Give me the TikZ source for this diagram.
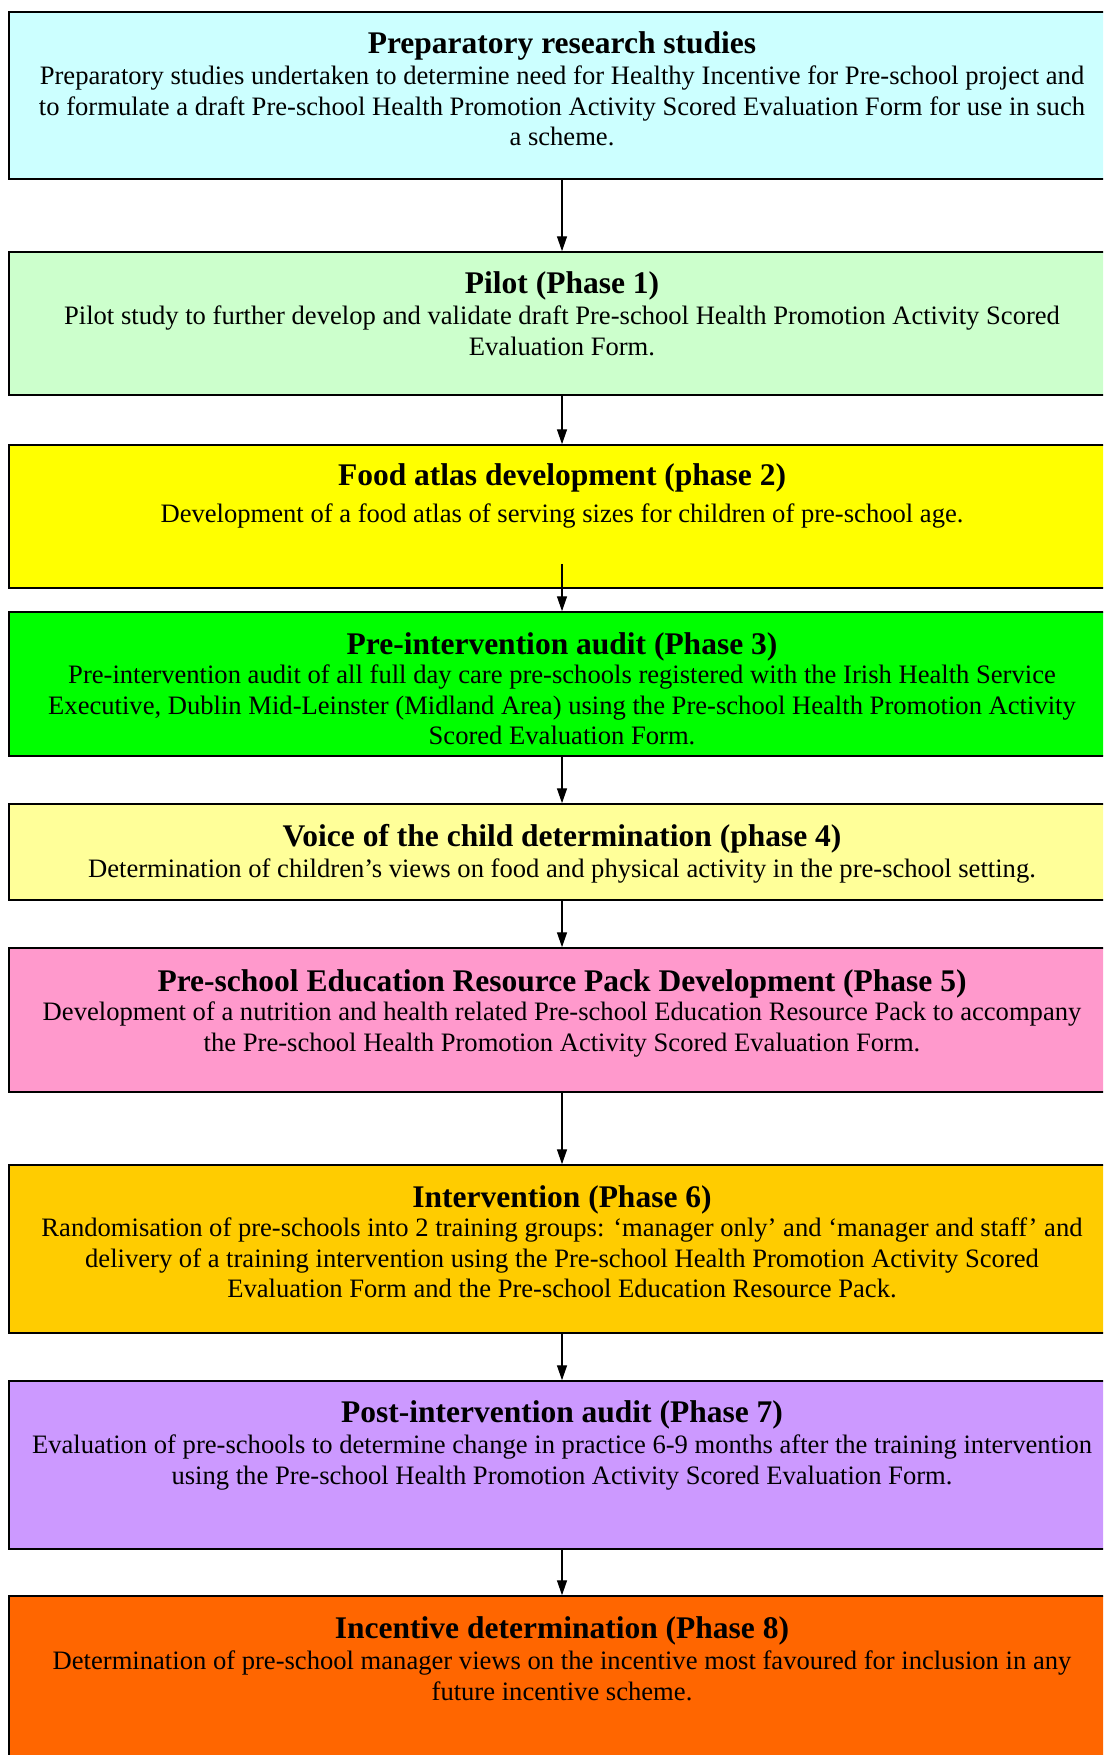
\documentclass[tikz,border=0pt]{standalone}
\usepackage{fontspec}
\setmainfont{Liberation Serif}
\usetikzlibrary{arrows.meta}
\definecolor{c1}{HTML}{CCFFFF}
\definecolor{c2}{HTML}{CCFFCC}
\definecolor{c3}{HTML}{FFFF00}
\definecolor{c4}{HTML}{00FF00}
\definecolor{c5}{HTML}{FFFF99}
\definecolor{c6}{HTML}{FF99CC}
\definecolor{c7}{HTML}{FFCC00}
\definecolor{c8}{HTML}{CC99FF}
\definecolor{c9}{HTML}{FF6600}
\tikzset{
  phasebox/.style={draw=black, line width=1.5pt, rectangle, inner sep=0pt, minimum width=1106pt},
  titletext/.style={anchor=base, inner sep=0pt, font=\fontsize{31.5}{36}\selectfont\bfseries},
  bodytext/.style={anchor=base, inner sep=0pt, align=center, font=\fontsize{26.6}{30.3}\selectfont},
  flow/.style={draw=black, line width=1.4pt, -{Triangle[length=15pt,width=10pt]}}
}
\begin{document}
\begin{tikzpicture}[x=1pt,y=-1pt]
\useasboundingbox (0,0) rectangle (1103,1755);
\clip (0,0) rectangle (1103,1755);
% boxes
\node[phasebox, fill=c1, minimum height=167pt] (b1) at (562,95.5) {};
\node[phasebox, fill=c2, minimum height=143pt] (b2) at (562,323.5) {};
\node[phasebox, fill=c3, minimum height=143pt] (b3) at (562,516.5) {};
\node[phasebox, fill=c4, minimum height=144pt] (b4) at (562,684) {};
\node[phasebox, fill=c5, minimum height=96pt] (b5) at (562,852) {};
\node[phasebox, fill=c6, minimum height=144pt] (b6) at (562,1020) {};
\node[phasebox, fill=c7, minimum height=168pt] (b7) at (562,1249) {};
\node[phasebox, fill=c8, minimum height=168pt] (b8) at (562,1465) {};
\node[phasebox, fill=c9, minimum height=200pt] (b9) at (562,1696) {};
% titles
\node[titletext] (t1) at (562,53.8) {Preparatory research studies};
\node[titletext] (t2) at (562,293.3) {Pilot (Phase 1)};
\node[titletext] (t3) at (562,485.3) {Food atlas development (phase 2)};
\node[titletext] (t4) at (562,654.3) {Pre-intervention audit (Phase 3)};
\node[titletext] (t5) at (562,846.3) {Voice of the child determination (phase 4)};
\node[titletext] (t6) at (562,991.3) {Pre-school Education Resource Pack Development (Phase 5)};
\node[titletext] (t7) at (562,1207.3) {Intervention (Phase 6)};
\node[titletext] (t8) at (562,1422.3) {Post-intervention audit (Phase 7)};
\node[titletext] (t9) at (562,1638.3) {Incentive determination (Phase 8)};
% bodies (anchor base = baseline of last line)
\node[bodytext] (d1) at (562,145.5) {Preparatory studies undertaken to determine need for Healthy Incentive for Pre-school project and\\to formulate a draft Pre-school Health Promotion Activity Scored Evaluation Form for use in such\\a scheme.};
\node[bodytext] (d2) at (562,355.2) {Pilot study to further develop and validate draft Pre-school Health Promotion Activity Scored\\Evaluation Form.};
\node[bodytext] (d3) at (562,522.9) {Development of a food atlas of serving sizes for children of pre-school age.};
\node[bodytext] (d4) at (562,744.5) {Pre-intervention audit of all full day care pre-schools registered with the Irish Health Service\\Executive, Dublin Mid-Leinster (Midland Area) using the Pre-school Health Promotion Activity\\Scored Evaluation Form.};
\node[bodytext] (d5) at (562,877.9) {Determination of children’s views on food and physical activity in the pre-school setting.};
\node[bodytext] (d6) at (562,1051.2) {Development of a nutrition and health related Pre-school Education Resource Pack to accompany\\the Pre-school Health Promotion Activity Scored Evaluation Form.};
\node[bodytext] (d7) at (562,1297.5) {Randomisation of pre-schools into 2 training groups: ‘manager only’ and ‘manager and staff’ and\\delivery of a training intervention using the Pre-school Health Promotion Activity Scored\\Evaluation Form and the Pre-school Education Resource Pack.};
\node[bodytext] (d8) at (562,1484.2) {Evaluation of pre-schools to determine change in practice 6-9 months after the training intervention\\using the Pre-school Health Promotion Activity Scored Evaluation Form.};
\node[bodytext] (d9) at (562,1700.2) {Determination of pre-school manager views on the incentive most favoured for inclusion in any\\future incentive scheme.};
% arrows
\draw[flow] (b1.south) -- (b2.north);
\draw[flow] (b2.south) -- (b3.north);
\draw[flow] ([yshift=25pt]b3.south) -- (b4.north);
\draw[flow] (b4.south) -- (b5.north);
\draw[flow] (b5.south) -- (b6.north);
\draw[flow] (b6.south) -- (b7.north);
\draw[flow] (b7.south) -- (b8.north);
\draw[flow] (b8.south) -- (b9.north);
\end{tikzpicture}
\end{document}
